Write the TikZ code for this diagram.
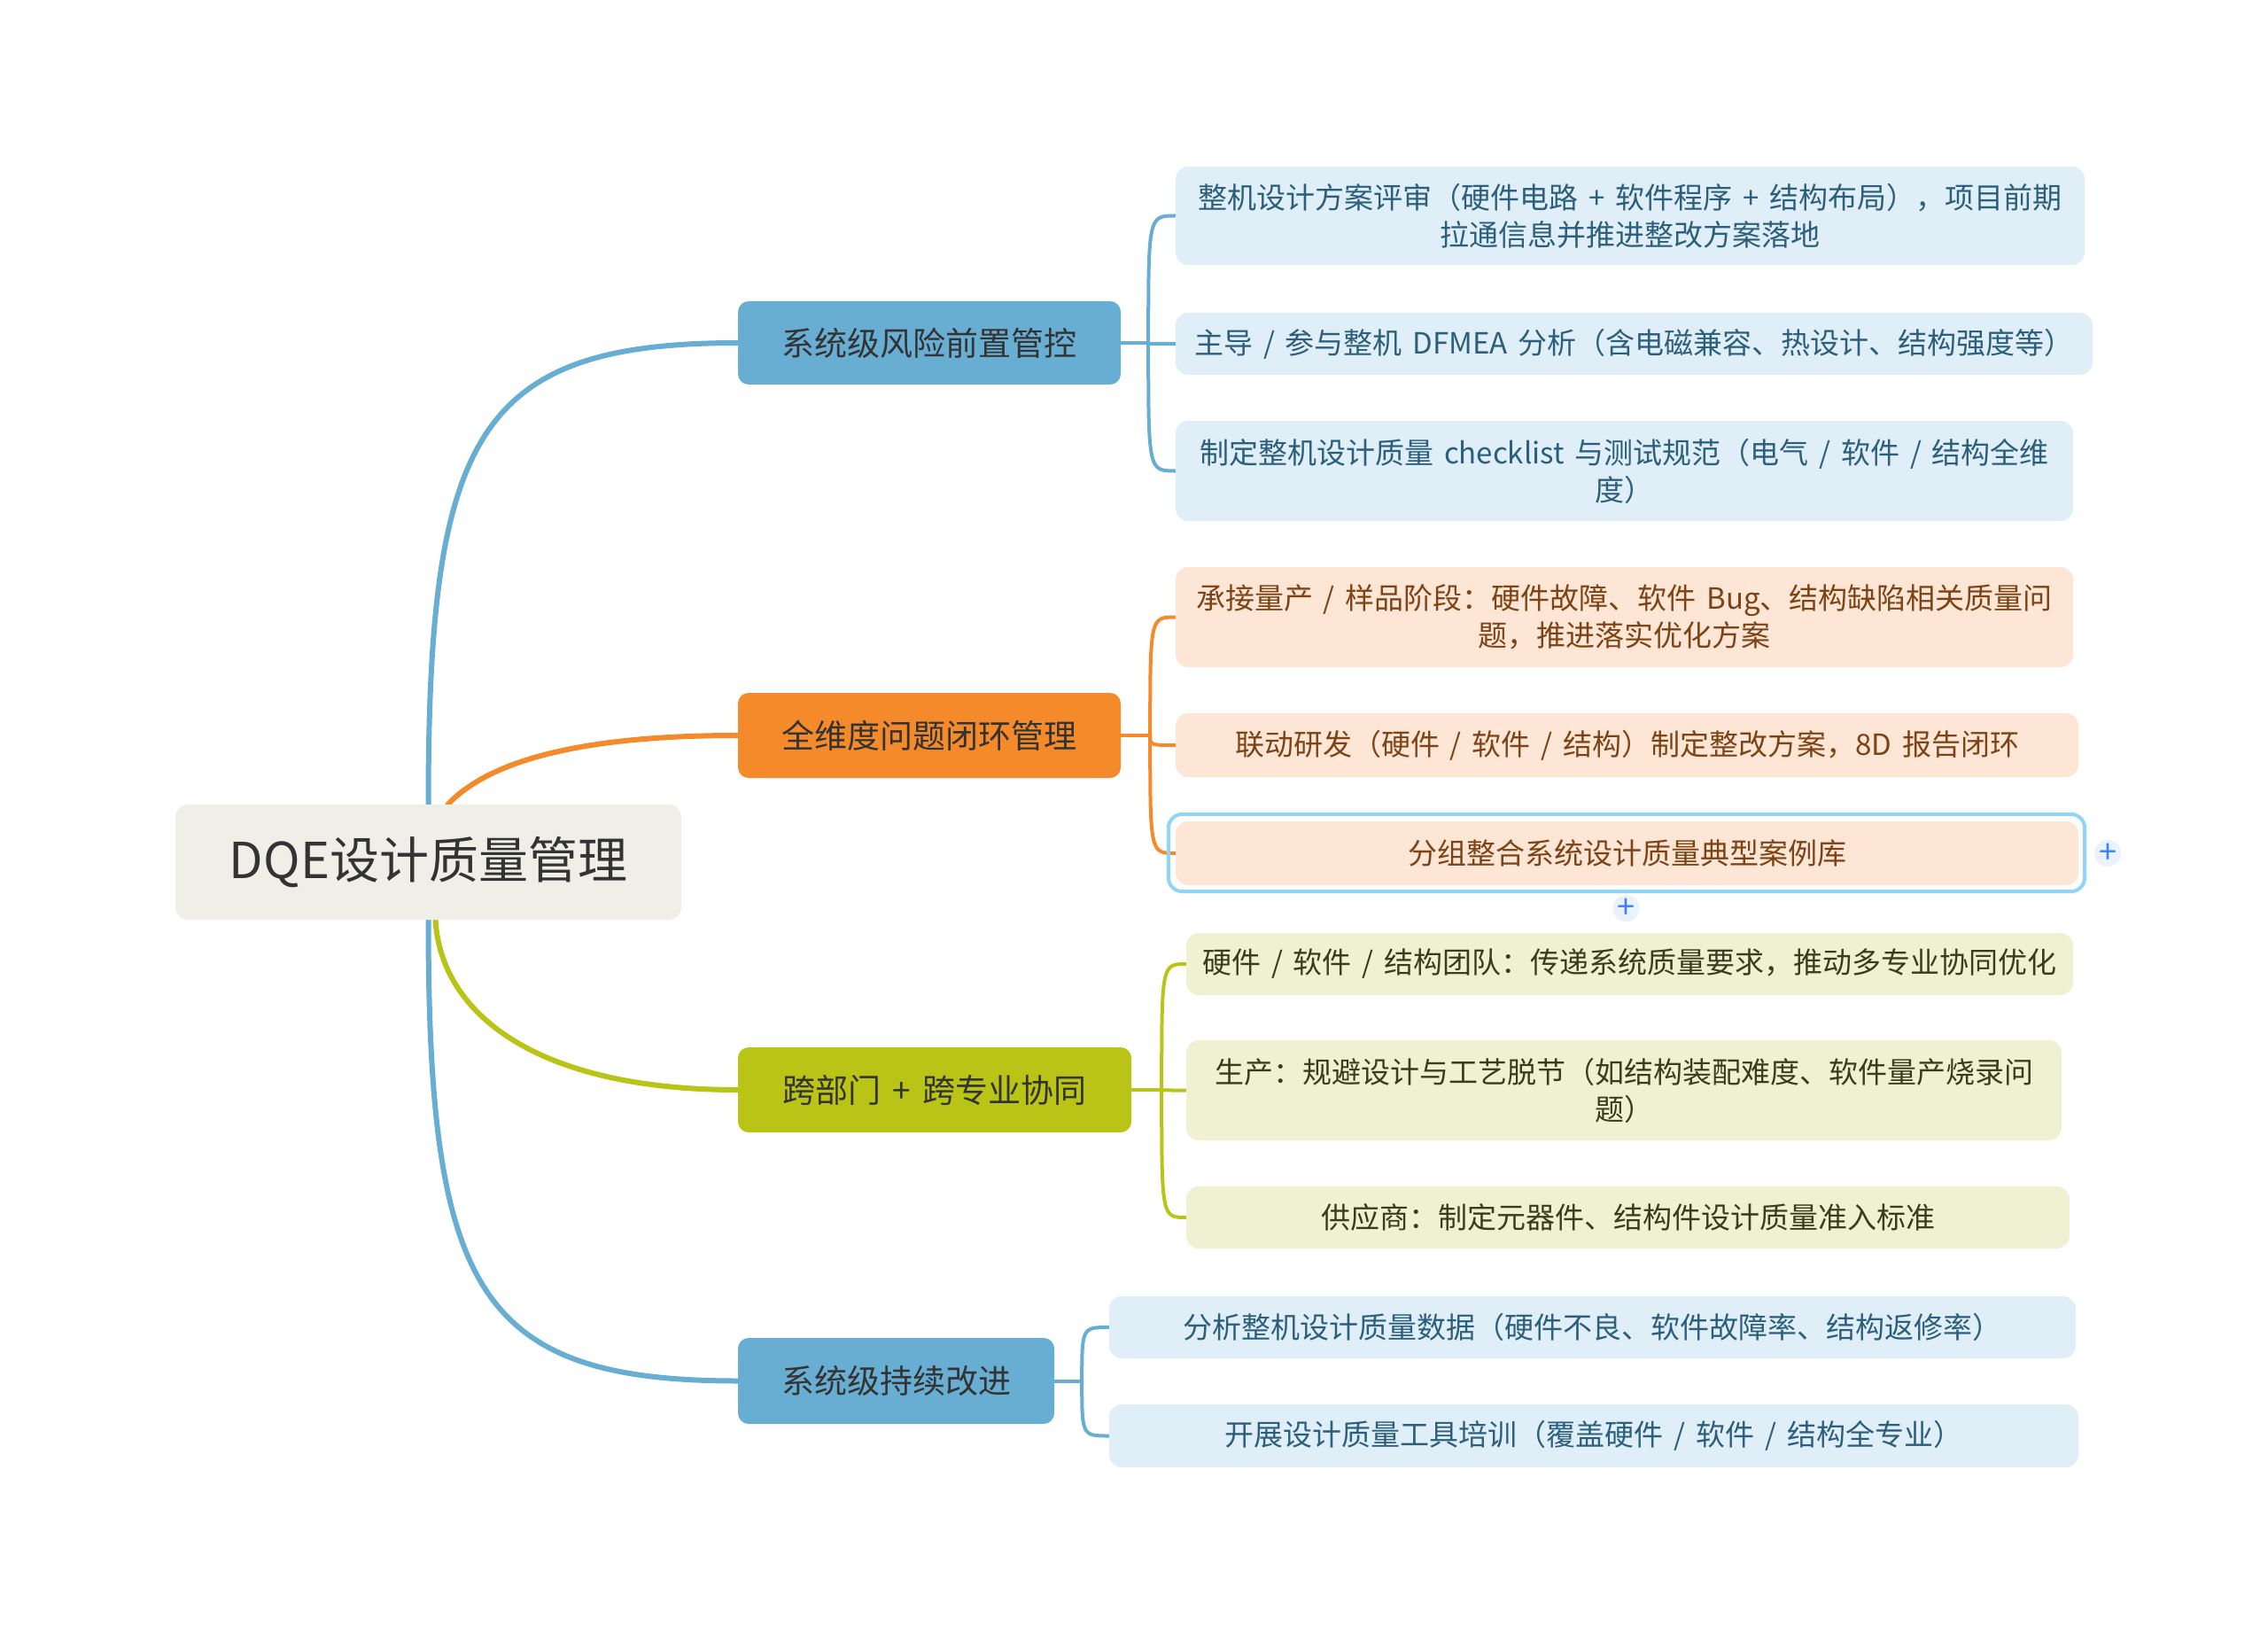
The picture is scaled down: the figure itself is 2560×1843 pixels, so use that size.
\documentclass[tikz,border=0pt]{standalone}
\usepackage{fontspec}
\setmainfont{Noto Sans CJK SC}[WordSpace=1.6]
\usetikzlibrary{calc,backgrounds}
\definecolor{bblue}{HTML}{68AED3}
\definecolor{borange}{HTML}{F58A2B}
\definecolor{bolive}{HTML}{B9C417}
\definecolor{lblue}{HTML}{DFEEF7}
\definecolor{lorange}{HTML}{FDE6D5}
\definecolor{lolive}{HTML}{F0F1D2}
\definecolor{rootfill}{HTML}{EFEFE8}
\definecolor{tdark}{HTML}{333333}
\definecolor{tblue}{HTML}{2B5F7C}
\definecolor{torange}{HTML}{7E4315}
\definecolor{tolive}{HTML}{3B3B20}
\definecolor{selblue}{HTML}{8ED4FB}
\definecolor{plusblue}{HTML}{3C82F0}
\definecolor{plusfill}{HTML}{EAF2FE}
\begin{document}
\begin{tikzpicture}[x=1pt,y=-1pt,
  box/.style={rectangle, rounded corners=14pt, inner sep=0pt, align=center},
  rootbox/.style={box, fill=rootfill, text=tdark, font=\fontsize{56}{66}\selectfont},
  branchbox/.style={box, rounded corners=12pt, text=tdark, font=\fontsize{37}{44}\selectfont},
  leafbox/.style={box, font=\fontsize{33}{42}\selectfont},
  bluebranch/.style={branchbox, fill=bblue},
  orangebranch/.style={branchbox, fill=borange},
  olivebranch/.style={branchbox, fill=bolive},
  blueleaf/.style={leafbox, fill=lblue, text=tblue},
  orangeleaf/.style={leafbox, fill=lorange, text=torange},
  oliveleaf/.style={leafbox, fill=lolive, text=tolive},
  mainconn/.style={line width=6pt, line cap=round},
  leafconn/.style={line width=4pt, line cap=round},
  plusicon/.style={circle, fill=plusfill, minimum size=30pt, inner sep=0pt, text=plusblue, font=\fontsize{36}{36}\selectfont}
]
\useasboundingbox (0,0) rectangle (2560,1843);

% root
\node[rootbox, minimum width=571pt, minimum height=130pt] (R) at (483.5,973) {DQE设计质量管理};

% branches
\node[bluebranch, minimum width=432pt, minimum height=94pt] (B1) at (1049,387) {系统级风险前置管控};
\node[orangebranch, minimum width=432pt, minimum height=96pt] (B2) at (1049,830) {全维度问题闭环管理};
\node[olivebranch, minimum width=444pt, minimum height=96pt] (B3) at (1055,1230) {跨部门 + 跨专业协同};
\node[bluebranch, minimum width=357pt, minimum height=97pt] (B4) at (1011.5,1558.5) {系统级持续改进};

% leaves
\node[blueleaf, minimum width=1026pt, minimum height=111pt] (L1a) at (1840,243.5) {整机设计方案评审（硬件电路 + 软件程序 + 结构布局），项目前期\\拉通信息并推进整改方案落地};
\node[blueleaf, minimum width=1035pt, minimum height=70pt] (L1b) at (1844.5,388) {主导 / 参与整机 DFMEA 分析（含电磁兼容、热设计、结构强度等）};
\node[blueleaf, minimum width=1013pt, minimum height=113pt] (L1c) at (1833.5,531.5) {制定整机设计质量 checklist 与测试规范（电气 / 软件 / 结构全维\\度）};

\node[orangeleaf, minimum width=1013pt, minimum height=113pt] (L2a) at (1833.5,696.5) {承接量产 / 样品阶段：硬件故障、软件 Bug、结构缺陷相关质量问\\题，推进落实优化方案};
\node[orangeleaf, minimum width=1019pt, minimum height=72pt] (L2b) at (1836.5,841) {联动研发（硬件 / 软件 / 结构）制定整改方案，8D 报告闭环};
\node[orangeleaf, minimum width=1019pt, minimum height=72pt] (L2c) at (1836.5,963) {分组整合系统设计质量典型案例库};

\node[oliveleaf, minimum width=1001pt, minimum height=70pt] (L3a) at (1839.5,1088) {硬件 / 软件 / 结构团队：传递系统质量要求，推动多专业协同优化};
\node[oliveleaf, minimum width=988pt, minimum height=113pt] (L3b) at (1833,1230.5) {生产：规避设计与工艺脱节（如结构装配难度、软件量产烧录问\\题）};
\node[oliveleaf, minimum width=997pt, minimum height=70pt] (L3c) at (1837.5,1374) {供应商：制定元器件、结构件设计质量准入标准};

\node[blueleaf, minimum width=1091pt, minimum height=70pt] (L4a) at (1797.5,1498) {分析整机设计质量数据（硬件不良、软件故障率、结构返修率）};
\node[blueleaf, minimum width=1094pt, minimum height=71pt] (L4b) at (1799,1620.5) {开展设计质量工具培训（覆盖硬件 / 软件 / 结构全专业）};

% selection outline and plus icons
\draw[selblue, line width=4pt, rounded corners=16pt] ($(L2c.south west)+(-8,7)$) rectangle ($(L2c.north east)+(7,-8)$);
\node[plusicon] (P1) at ($(L2c.east)+(33,0)$) {+};
\node[plusicon] (P2) at ($(L2c.south)+(-1,26)$) {+};

% junctions
\coordinate (J1) at ($(B1.east)+(31,0)$);
\coordinate (J2) at ($(B2.east)+(33,0)$);
\coordinate (J3) at ($(B3.east)+(34,0)$);
\coordinate (J4) at ($(B4.east)+(31,0)$);

\begin{scope}[on background layer]
% main connectors
\draw[mainconn, bblue] (R.north) .. controls +(0,-418) and +(-294,0) .. (B1.west);
\draw[mainconn, borange] ($(R.north)+(22,0)$) .. controls +(41,-43) and +(-196,0) .. (B2.west);
\draw[mainconn, bolive] ($(R.south)+(8,0)$) .. controls +(6,105) and +(-229,0) .. (B3.west);
\draw[mainconn, bblue] (R.south) .. controls +(0,418) and +(-294,0) .. (B4.west);

% branch 1
\draw[leafconn, bblue] (B1.east) -- (J1);
\draw[leafconn, bblue] (J1) .. controls (J1 |- L1a.west) .. (L1a.west);
\draw[leafconn, bblue] (J1) .. controls (J1 |- L1b.west) .. (L1b.west);
\draw[leafconn, bblue] (J1) .. controls (J1 |- L1c.west) .. (L1c.west);
% branch 2
\draw[leafconn, borange] (B2.east) -- (J2);
\draw[leafconn, borange] (J2) .. controls (J2 |- L2a.west) .. (L2a.west);
\draw[leafconn, borange] (J2) .. controls (J2 |- L2b.west) .. (L2b.west);
\draw[leafconn, borange] (J2) .. controls (J2 |- L2c.west) .. (L2c.west);
% branch 3
\draw[leafconn, bolive] (B3.east) -- (J3);
\draw[leafconn, bolive] (J3) .. controls (J3 |- L3a.west) .. (L3a.west);
\draw[leafconn, bolive] (J3) .. controls (J3 |- L3b.west) .. (L3b.west);
\draw[leafconn, bolive] (J3) .. controls (J3 |- L3c.west) .. (L3c.west);
% branch 4
\draw[leafconn, bblue] (B4.east) -- (J4);
\draw[leafconn, bblue] (J4) .. controls (J4 |- L4a.west) .. (L4a.west);
\draw[leafconn, bblue] (J4) .. controls (J4 |- L4b.west) .. (L4b.west);
\end{scope}
\end{tikzpicture}
\end{document}
